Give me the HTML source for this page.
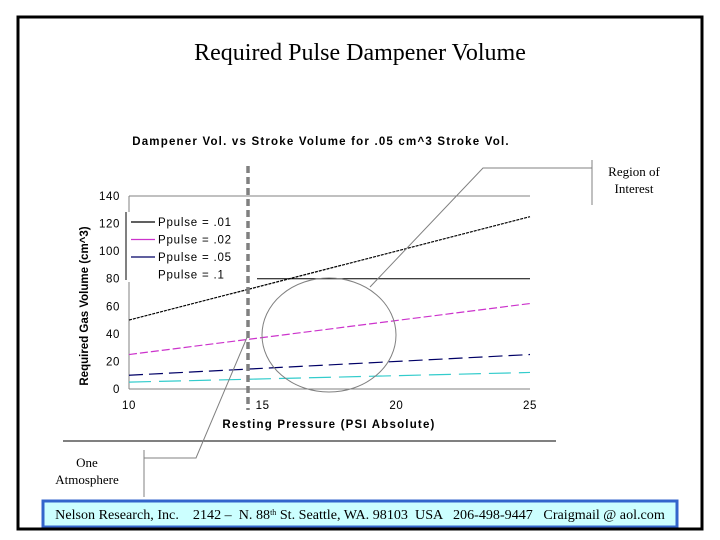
<!DOCTYPE html>
<html><head><meta charset="utf-8"><style>
body{margin:0;background:#fff;}
svg{display:block;}
.serif{font-family:"Liberation Serif",serif;}
.sans{font-family:"Liberation Sans",sans-serif;}
</style></head><body>
<svg width="720" height="540" xmlns="http://www.w3.org/2000/svg">
<rect x="18" y="17" width="684" height="512" fill="none" stroke="#000" stroke-width="3"/>
<text x="360" y="60" text-anchor="middle" class="serif" font-size="24">Required Pulse Dampener Volume</text>
<text x="321" y="145" text-anchor="middle" class="sans" font-size="11.5" font-weight="bold" letter-spacing="1.2">Dampener Vol. vs Stroke Volume for .05 cm^3 Stroke Vol.</text>
<g id="plot"></g>
<g id="legend"></g>
<text x="329" y="428" text-anchor="middle" class="sans" font-size="11.5" font-weight="bold" letter-spacing="1.2">Resting Pressure (PSI Absolute)</text>
<text transform="translate(88,306) rotate(-90)" text-anchor="middle" class="sans" font-size="11.5" font-weight="bold">Required Gas Volume (cm^3)</text>
<line x1="248" y1="166" x2="248" y2="410" stroke="#808080" stroke-width="3.5" stroke-dasharray="7,4"/>
<ellipse cx="329" cy="335" rx="67" ry="57" fill="none" stroke="#808080" stroke-width="1"/>
<polyline points="370,287 483,168 592,168" fill="none" stroke="#808080"/>
<line x1="592" y1="160" x2="592" y2="205" stroke="#808080"/>
<text x="634" y="176" text-anchor="middle" class="serif" font-size="13">Region of</text>
<text x="634" y="193" text-anchor="middle" class="serif" font-size="13">Interest</text>
<line x1="63" y1="441" x2="556" y2="441" stroke="#000" stroke-width="1"/>
<polyline points="248,335 196,458 144,458" fill="none" stroke="#808080"/>
<line x1="144" y1="450" x2="144" y2="497" stroke="#808080"/>
<text x="87" y="467" text-anchor="middle" class="serif" font-size="13">One</text>
<text x="87" y="484" text-anchor="middle" class="serif" font-size="13">Atmosphere</text>
<rect x="43" y="501" width="634" height="26" fill="#ccffff" stroke="#3366cc" stroke-width="3"/>
<text x="360" y="519" text-anchor="middle" class="serif" font-size="14.1" xml:space="preserve">Nelson Research, Inc.    2142 –  N. 88<tspan font-size="8" dy="-4">th</tspan><tspan dy="4"> St. Seattle, WA. 98103  USA   206-498-9447   Craigmail @ aol.com</tspan></text>
<line x1="18" y1="529" x2="702" y2="529" stroke="#000" stroke-width="3"/>
</svg>
<script>
const xValues=[10,25];
const seriesNames=["Ppulse = .01","Ppulse = .02","Ppulse = .05","Ppulse = .1"];
const series01=[50,125];
const series02=[25,62];
const series05=[10,25];
const series10=[5,12];
const yTicks=[0,20,40,60,80,100,120,140];
const xTicks=[10,15,20,25];
const NS="http://www.w3.org/2000/svg";
const X=v=>129+(v-10)*(530-129)/15;
const Y=v=>389-v*(389-196)/140;
const plot=document.getElementById('plot');
function mk(t,a){const e=document.createElementNS(NS,t);for(const k in a)e.setAttribute(k,a[k]);return e;}
let g=mk('line',{x1:X(10),y1:Y(140),x2:X(25),y2:Y(140),stroke:'#808080'});


plot.appendChild(g);
let g2=mk('line',{x1:X(14.1),y1:Y(80),x2:X(25),y2:Y(80),stroke:'#000'});


plot.appendChild(g2);
let ax=mk('line',{x1:X(10),y1:Y(0),x2:X(10),y2:Y(140),stroke:'#808080'});


plot.appendChild(ax);
let bx=mk('line',{x1:X(10),y1:Y(0),x2:X(25),y2:Y(0),stroke:'#808080'});


plot.appendChild(bx);
yTicks.forEach(t=>{const e=mk('text',{x:120,y:Y(t)+4,'text-anchor':'end','font-size':'11.5','letter-spacing':'0.6','font-family':'Liberation Sans, sans-serif'});e.textContent=t;


plot.appendChild(e);});
xTicks.forEach(t=>{const e=mk('text',{x:X(t),y:409,'text-anchor':'middle','font-size':'11.5','letter-spacing':'0.6','font-family':'Liberation Sans, sans-serif'});e.textContent=t;


plot.appendChild(e);});
const all=[series01,series02,series05,series10];
const cols=['#000','#cc33cc','#000066','#33cccc'];
const dash=['3,1','8,3','14,6','22,8'];
all.forEach((s,i)=>{const l=mk('line',{x1:X(xValues[0]),y1:Y(s[0]),x2:X(xValues[1]),y2:Y(s[1]),stroke:cols[i],'stroke-width':1.2,'stroke-dasharray':dash[i]});


plot.appendChild(l);});
const leg=document.getElementById('legend');
const lb=mk('rect',{x:127,y:212,width:130,height:70,fill:'#fff'});
leg.appendChild(lb);
leg.appendChild(mk('line',{x1:126,y1:212,x2:126,y2:280,stroke:'#000'}));
seriesNames.forEach((n,i)=>{const y=222+i*17.5;
if(i<3){const l=mk('line',{x1:131,y1:y,x2:155,y2:y,stroke:cols[i],'stroke-width':1.3});


leg.appendChild(l);}
const t=mk('text',{x:158,y:y+4,'font-size':'11.5','font-family':'Liberation Sans, sans-serif','letter-spacing':'0.8'});t.textContent=n;


leg.appendChild(t);});
</script>
</body></html>
